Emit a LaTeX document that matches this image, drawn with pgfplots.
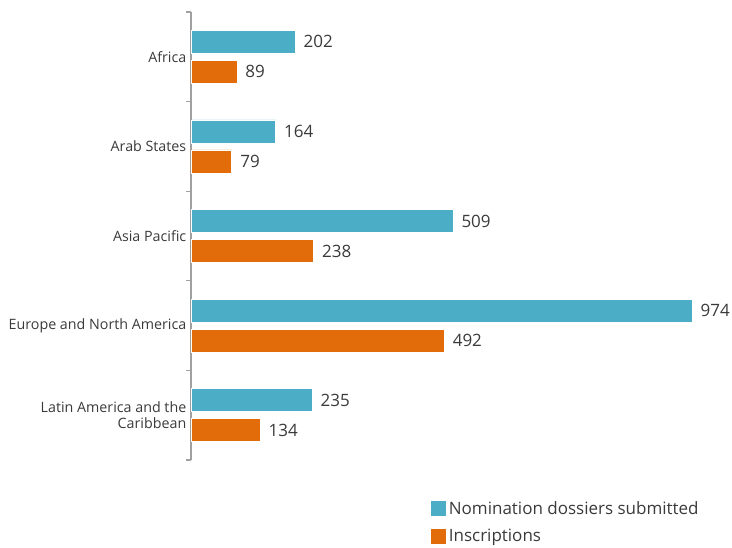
\documentclass[border=0pt]{standalone}
\usepackage{fontspec}
\setmainfont{Open Sans}
\usepackage{pgfplots}
\pgfplotsset{compat=1.18}
\definecolor{barteal}{HTML}{4BAEC6}
\definecolor{barorange}{HTML}{E36C0A}
\definecolor{txt}{HTML}{3A3A3A}
\definecolor{axisgray}{HTML}{A0A0A0}
\begin{document}
\begin{tikzpicture}
\path[use as bounding box] (0pt,0pt) rectangle (549pt,410.25pt);
\begin{axis}[
    at={(143.25pt,65.25pt)}, anchor=south west,
    width=375.75pt, height=336pt, scale only axis,
    xbar,
    xmin=0, xmax=974,
    ymin=-0.5, ymax=4.5,
    y dir=reverse,
    axis x line=none,
    axis y line*=left,
    axis line style={-, draw=axisgray, line width=1.5pt},
    ytick={0,1,2,3,4},
    yticklabels={Africa, Arab States, Asia Pacific, Europe and North America, {Latin America and the\\Caribbean}},
    minor ytick={-0.5,0.5,1.5,2.5,3.5,4.5},
    major tick length=0pt,
    minor tick length=4pt,
    tick align=outside,
    minor tick style={draw=axisgray, line width=1pt},
    yticklabel style={font=\fontsize{10.7}{12.5}\selectfont, align=right, text=txt},
    bar width=17.25pt,
    nodes near coords,
    /pgf/number format/assume math mode=true,
    nodes near coords style={font=\fontsize{12.75}{14}\selectfont, text=txt, anchor=west, xshift=3pt},
    legend style={at={(0.471,-0.08)}, anchor=north west, draw=none, fill=none,
        font=\fontsize{12.75}{14}\selectfont, text=txt, row sep=5.5pt,
        cells={anchor=west}},
    legend image code/.code={\fill[#1, draw=none] (0pt,-5.6pt) rectangle (11.25pt,5.6pt);},
]
\addplot[fill=barteal, draw=white, line width=0.4pt, bar shift=11.25pt] coordinates {
    (202,0) (164,1) (509,2) (974,3) (235,4)
};
\addplot[fill=barorange, draw=white, line width=0.4pt, bar shift=-11.25pt] coordinates {
    (89,0) (79,1) (238,2) (492,3) (134,4)
};
\legend{Nomination dossiers submitted, Inscriptions}
\end{axis}
\end{tikzpicture}
\end{document}
